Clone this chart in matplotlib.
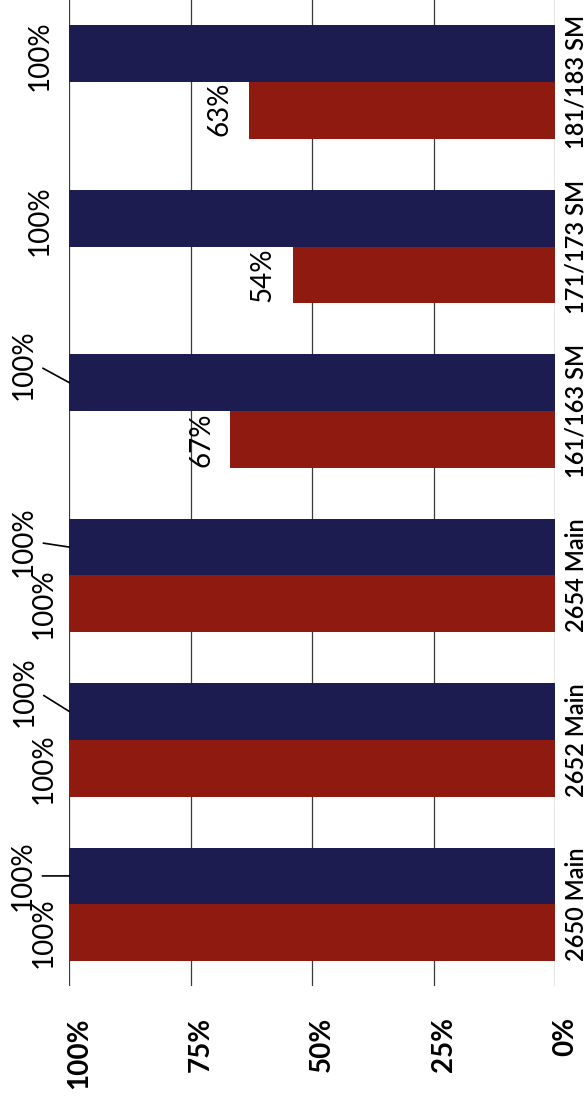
import matplotlib.pyplot as plt
from matplotlib.transforms import ScaledTranslation

# data (categories listed bottom to top as they appear in the picture)
categories = ["2650 Main", "2652 Main", "2654 Main", "161/163 SM", "171/173 SM", "181/183 SM"]
blue_values = [100, 100, 100, 100, 100, 100]
red_values = [100, 100, 100, 67, 54, 63]
value_ticks = [0, 25, 50, 75, 100]
value_tick_labels = ["0%", "25%", "50%", "75%", "100%"]

plt.rcParams["font.family"] = ["Lato", "DejaVu Sans"]

BLUE = "#1d1c50"
RED = "#8f1a10"
bar_h = 0.345

fig = plt.figure(figsize=(5.88, 11.01), dpi=100)
ax = fig.add_axes([0.118, 0.104, 0.826, 0.896])

ypos = list(range(len(categories)))
blue_y = [y + bar_h / 2 for y in ypos]
red_y = [y - bar_h / 2 for y in ypos]

ax.barh(blue_y, blue_values, height=bar_h, color=BLUE, zorder=2)
ax.barh(red_y, red_values, height=bar_h, color=RED, zorder=2)

ax.set_xlim(100, 0)
ax.set_ylim(-0.5, len(categories) - 0.5)

# gridlines
ax.set_xticks(value_ticks)
ax.grid(axis="x", color="#3a3a3a", linewidth=0.9, zorder=1)
ax.set_axisbelow(True)
for s in ax.spines.values():
    s.set_visible(False)

ax.set_xticklabels(value_tick_labels, rotation=90, fontsize=20, fontweight="bold")
ax.tick_params(axis="x", length=0, pad=22)
shift = ScaledTranslation(10 / 100, 0, fig.dpi_scale_trans)
for lbl in ax.get_xticklabels():
    lbl.set_ha("center")
    lbl.set_transform(lbl.get_transform() + shift)

ax.yaxis.tick_right()
ax.set_yticks(ypos)
ax.set_yticklabels(categories, rotation=90, va="center", fontsize=17, fontweight="semibold")
ax.tick_params(axis="y", length=0, pad=7)

# value labels
txt = dict(rotation=90, fontsize=20, ha="center", va="center", textcoords="offset pixels")

# blue labels: offsets in pixels, leader lines where the label was pushed aside
blue_offsets = [(-47, 0), (-45, 20), (-46, 5), (-46, 18), (-30, -2), (-30, -2)]
blue_leader = [True, True, True, True, False, False]
for i in range(len(categories)):
    kw = {}
    if blue_leader[i]:
        kw = dict(arrowprops=dict(arrowstyle="-", color="black", lw=1.2,
                                  shrinkA=3, shrinkB=0, relpos=(1, 0.5)))
    ax.annotate(f"{blue_values[i]}%", xy=(blue_values[i], blue_y[i]),
                xytext=blue_offsets[i], **txt, **kw)

red_offsets = [(-26, 0), (-26, 0), (-26, 0), (-28, 0), (-30, 0), (-30, 2)]
for i in range(len(categories)):
    ax.annotate(f"{red_values[i]}%", xy=(red_values[i], red_y[i]),
                xytext=red_offsets[i], **txt)

fig.savefig("out.png", dpi=100)
